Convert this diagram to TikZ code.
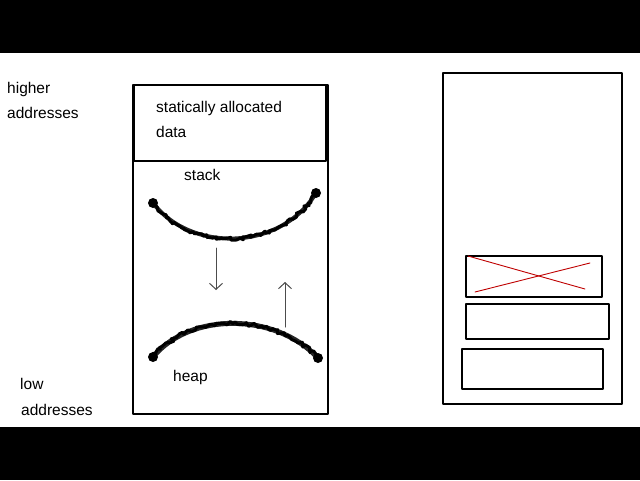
\documentclass[tikz,border=0pt]{standalone}
\usepackage{fontspec}
\setmainfont{Liberation Sans}
\usetikzlibrary{decorations.pathmorphing,arrows.meta}
\begin{document}
\begin{tikzpicture}[x=1pt,y=-1pt,>={Straight Barb[length=6pt,width=13pt]}, line join=round, line cap=round, font=\fontsize{15.5}{18}\selectfont]
\tikzset{lbl/.style={anchor=base west,inner sep=0pt},
  noisy/.style={line width=3pt, decorate, decoration={random steps,segment length=2.5pt,amplitude=2pt}},
  growarrow/.style={->,draw=black!70,line width=1pt}}
% nen
\fill[black] (0,0) rectangle (640,480);
\fill[white] (0,53) rectangle (640,427);
\useasboundingbox (0,0) rectangle (640,480);
% nhan trai
\node[lbl] (hi1) at (7,93) {higher};
\node[lbl] (hi2) at (7,118) {addresses};
\node[lbl] (lo1) at (20,389) {low};
\node[lbl] (lo2) at (21,415) {addresses};
% bo nho
\draw[line width=1.6pt] (133,85) rectangle (328,414);
\draw[line width=1.4pt] (134,85) rectangle (326,161);
\node[lbl] (st1) at (156,112) {statically allocated};
\node[lbl] (st2) at (156,137) {data};
\node[lbl] (stk) at (184,180) {stack};
\node[lbl] (hp) at (173,381) {heap};
% stack va heap
\draw[line width=4pt,black!85] (153,203) .. controls (190,252) and (280,252) .. (316,193);
\draw[noisy] (153,203) .. controls (190,252) and (280,252) .. (316,193);
\fill (153,203) circle (5pt) (316,193) circle (5pt);
\draw[line width=5pt,black!85] (153,357) .. controls (190,312) and (275,312) .. (318,358);
\draw[noisy] (153,357) .. controls (190,312) and (275,312) .. (318,358);
\fill (153,357) circle (5pt) (318,358) circle (5pt);
\coordinate (d1) at (216,248); \coordinate (d2) at (216,290);
\coordinate (u1) at (285,327); \coordinate (u2) at (285,282);
\draw[growarrow] (d1)--(d2);
\draw[growarrow] (u1)--(u2);
% hinh phai
\draw[line width=1.4pt] (443,73) rectangle (622,404);
\draw[line width=1.4pt] (466,256) rectangle (602,297);
\draw[red!75!black,line width=0.9pt] (468,256)--(585,289);
\draw[red!75!black,line width=0.9pt] (475,292)--(590,263);
\draw[line width=1.3pt] (466,304) rectangle (609,339);
\draw[line width=1.4pt] (462,349) rectangle (603,389);
\end{tikzpicture}
\end{document}
